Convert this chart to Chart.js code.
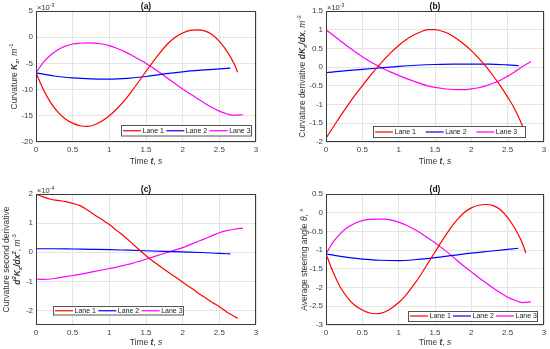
<!DOCTYPE html>
<html>
<head>
<meta charset="utf-8">
<script src="https://cdn.jsdelivr.net/npm/chart.js@4.4.1/dist/chart.umd.min.js"></script>
<style>
body { margin: 0; background: #fff; width: 550px; height: 349px; position: relative; overflow: hidden; }
canvas { position: absolute; }
</style>
</head>
<body>
<canvas id="ca" width="275" height="175" style="left:0;top:0"></canvas>
<canvas id="cb" width="275" height="175" style="left:275px;top:0"></canvas>
<canvas id="cc" width="275" height="174" style="left:0;top:175px"></canvas>
<canvas id="cd" width="275" height="174" style="left:275px;top:175px"></canvas>
<script>
// time samples of each lane, s
const lane1T = [0, 0.1, 0.2, 0.3, 0.4, 0.5, 0.6, 0.7, 0.8, 0.9, 1.0, 1.1, 1.2, 1.3, 1.4, 1.5, 1.6, 1.7, 1.8, 1.9, 2.0, 2.1, 2.2, 2.3, 2.4, 2.5, 2.6, 2.7, 2.75];
const lane2T = [0, 0.25, 0.5, 0.75, 1.0, 1.25, 1.5, 1.75, 2.0, 2.25, 2.5, 2.65];
const lane3T = [0, 0.1, 0.2, 0.3, 0.4, 0.5, 0.6, 0.7, 0.8, 0.9, 1.0, 1.1, 1.2, 1.3, 1.4, 1.5, 1.6, 1.7, 1.8, 1.9, 2.0, 2.1, 2.2, 2.3, 2.4, 2.5, 2.6, 2.7, 2.82];

// (a) curvature, x10^-3 1/m
const curvL1 = [-6.8, -10, -12.5, -14.3, -15.6, -16.4, -16.9, -17, -16.7, -16, -15, -13.7, -12.2, -10.4, -8.5, -6.5, -4.6, -2.8, -1.2, 0, 0.8, 1.3, 1.4, 1.2, 0.5, -0.8, -2.6, -5.0, -6.7];
const curvL2 = [-6.8, -7.4, -7.75, -7.95, -8.0, -7.85, -7.5, -7.0, -6.6, -6.3, -6.05, -5.9];
const curvL3 = [-6.8, -4.8, -3.4, -2.4, -1.7, -1.3, -1.15, -1.1, -1.12, -1.3, -1.6, -2.1, -2.7, -3.4, -4.2, -5.0, -5.9, -6.9, -7.9, -8.9, -9.9, -10.8, -11.7, -12.6, -13.4, -14.1, -14.6, -14.9, -14.8];

// (b) curvature derivative, x10^-3
const derivL1 = [-1.9, -1.6, -1.3, -1.02, -0.75, -0.5, -0.25, -0.02, 0.2, 0.4, 0.58, 0.73, 0.85, 0.94, 1.0, 1.0, 0.96, 0.88, 0.76, 0.61, 0.44, 0.24, 0.02, -0.23, -0.5, -0.8, -1.13, -1.55, -1.82];
const derivL2 = [-0.15, -0.1, -0.06, -0.02, 0.02, 0.05, 0.07, 0.08, 0.08, 0.08, 0.06, 0.04];
const derivL3 = [1.0, 0.85, 0.7, 0.55, 0.41, 0.28, 0.16, 0.05, -0.05, -0.14, -0.22, -0.3, -0.37, -0.44, -0.5, -0.54, -0.57, -0.59, -0.6, -0.6, -0.58, -0.55, -0.5, -0.43, -0.35, -0.24, -0.12, 0.01, 0.15];

// (c) curvature second derivative, x10^-4
const deriv2L1 = [2.0, 1.9, 1.82, 1.78, 1.74, 1.68, 1.6, 1.45, 1.28, 1.12, 0.95, 0.75, 0.55, 0.33, 0.1, -0.12, -0.32, -0.5, -0.68, -0.85, -1.03, -1.2, -1.38, -1.55, -1.72, -1.87, -2.05, -2.2, -2.27];
const deriv2L2 = [0.12, 0.12, 0.11, 0.1, 0.09, 0.07, 0.05, 0.03, 0.01, -0.01, -0.04, -0.06];
const deriv2L3 = [-0.92, -0.93, -0.92, -0.88, -0.84, -0.8, -0.76, -0.71, -0.66, -0.61, -0.56, -0.51, -0.45, -0.39, -0.32, -0.24, -0.16, -0.08, 0.0, 0.08, 0.16, 0.26, 0.36, 0.46, 0.57, 0.67, 0.74, 0.79, 0.83];

// (d) average steering angle, deg
const steerL1 = [-1.1, -1.6, -2.0, -2.28, -2.48, -2.6, -2.68, -2.7, -2.66, -2.55, -2.4, -2.2, -1.95, -1.67, -1.36, -1.05, -0.74, -0.45, -0.2, 0.0, 0.13, 0.2, 0.22, 0.19, 0.08, -0.13, -0.42, -0.8, -1.08];
const steerL2 = [-1.1, -1.18, -1.24, -1.27, -1.28, -1.25, -1.2, -1.14, -1.08, -1.03, -0.98, -0.95];
const steerL3 = [-1.1, -0.78, -0.55, -0.39, -0.28, -0.21, -0.18, -0.17, -0.17, -0.2, -0.25, -0.33, -0.43, -0.54, -0.67, -0.8, -0.95, -1.1, -1.27, -1.43, -1.58, -1.73, -1.87, -2.01, -2.14, -2.26, -2.34, -2.4, -2.38];

const laneNames = ['Lane 1', 'Lane 2', 'Lane 3'];
const laneColors = ['#ff0000', '#0000ff', '#ff00ff'];

const FONT = '"Liberation Sans", Arial, sans-serif';

function fontFor(st, size) {
	const it = st.includes('i') ? 'italic ' : '';
	const bd = st.includes('b') ? 'bold ' : '';
	return it + bd + size + 'px ' + FONT;
}

// draw text made of runs: [text, style, shift]
function drawRich(ctx, parts, size, x, y, rot, align) {
	ctx.save();
	ctx.translate(x, y);
	if (rot) ctx.rotate(-Math.PI / 2);
	ctx.textBaseline = 'alphabetic';
	ctx.textAlign = 'left';
	const runs = parts.map(([txt, st, shift]) => {
		const sz = shift ? size * 0.7 : size;
		const font = fontFor(st || '', sz);
		ctx.font = font;
		return {
			txt, font,
			w: ctx.measureText(txt).width,
			dy: shift === 'sub' ? size * 0.28 : shift === 'sup' ? -size * 0.42 : 0,
		};
	});
	const total = runs.reduce((a, r) => a + r.w, 0);
	let cx = align === 'left' ? 0 : -total / 2;
	for (const r of runs) {
		ctx.font = r.font;
		ctx.fillText(r.txt, cx, size * 0.36 + r.dy);
		cx += r.w;
	}
	ctx.restore();
}

const xTitle = [['Time ', ''], ['t', 'bi'], [', ', ''], ['s', 'i']];

// matlab style numbers: 1 not 1.0
const tickText = v => String(Number(v.toFixed(2)));

function panelPlugin(p) {
	return {
		id: 'panel_' + p.tag,
		afterDraw(chart) {
			const ctx = chart.ctx;
			const a = chart.chartArea;
			ctx.save();
			// axes box
			ctx.strokeStyle = '#3a3a3a';
			ctx.lineWidth = 1;
			ctx.strokeRect(Math.round(a.left) + 0.5, Math.round(a.top) + 0.5,
				Math.round(a.right - a.left) - 1, Math.round(a.bottom - a.top) - 1);

			ctx.fillStyle = '#111';
			drawRich(ctx, [['(' + p.tag + ')', 'b']], 8.5, (a.left + a.right) / 2, a.top - 5);
			ctx.fillStyle = '#333';
			if (p.expo) drawRich(ctx, p.expo, 7.5, a.left + 1, a.top - 4, false, 'left');
			drawRich(ctx, xTitle, 8.5, (a.left + a.right) / 2, p.xTitleY);
			p.yTitle.forEach((line, i) => {
				drawRich(ctx, line, 8.5, p.yTitleX[i], (a.top + a.bottom) / 2, true);
			});

			// legend
			const L = p.legend;
			const bx = a.left + L.x, by = a.bottom - L.b - L.h;
			ctx.fillStyle = '#fff';
			ctx.fillRect(bx, by, L.w, L.h);
			ctx.strokeStyle = '#555';
			ctx.strokeRect(Math.round(bx) + 0.5, Math.round(by) + 0.5, L.w, L.h);
			const step = L.w / 3;
			chart.data.datasets.forEach((ds, i) => {
				const ex = bx + 2 + i * step;
				const ey = by + L.h / 2 + 0.5;
				ctx.strokeStyle = ds.borderColor;
				ctx.lineWidth = 1.2;
				ctx.beginPath();
				ctx.moveTo(ex, ey);
				ctx.lineTo(ex + 18, ey);
				ctx.stroke();
				ctx.fillStyle = '#222';
				ctx.font = '7px ' + FONT;
				ctx.textBaseline = 'middle';
				ctx.textAlign = 'left';
				ctx.fillText(ds.label, ex + 19.5, ey);
			});
			ctx.restore();
		}
	};
}

function makeDataset(i, times, values) {
	return {
		label: laneNames[i],
		data: times.map((t, k) => ({ x: t, y: values[k] })),
		borderColor: laneColors[i],
		borderWidth: 1.2,
		pointRadius: 0,
		cubicInterpolationMode: 'monotone',
		fill: false,
	};
}

function renderPanel(p) {
	const ctx = document.getElementById(p.canvas).getContext('2d');
	new Chart(ctx, {
		type: 'line',
		data: {
			datasets: [
				makeDataset(0, lane1T, p.series[0]),
				makeDataset(1, lane2T, p.series[1]),
				makeDataset(2, lane3T, p.series[2]),
			],
		},
		options: {
			responsive: false,
			animation: false,
			layout: { padding: { top: p.padTop, right: p.padRight, left: 0, bottom: 0 } },
			plugins: { legend: { display: false }, tooltip: { enabled: false } },
			scales: {
				x: {
					type: 'linear',
					min: 0, max: 3,
					ticks: { stepSize: 0.5, padding: 3, color: '#404040', font: { size: 8, family: FONT }, callback: tickText },
					grid: { color: '#e4e4e4', drawTicks: false },
					border: { display: false },
					afterFit: s => { s.height = p.xH; },
				},
				y: {
					min: p.yMin, max: p.yMax,
					ticks: { stepSize: p.yStep, includeBounds: false, padding: 3, color: '#404040', font: { size: 8, family: FONT }, callback: tickText },
					grid: { color: '#e4e4e4', drawTicks: false },
					border: { display: false },
					afterFit: s => { s.width = p.yW; },
				},
			},
		},
		plugins: [panelPlugin(p)],
	});
}

renderPanel({
	tag: 'a', canvas: 'ca', padTop: 11, padRight: 19, yW: 36, xH: 33,
	yMin: -20, yMax: 5, yStep: 5,
	series: [curvL1, curvL2, curvL3],
	expo: [['×10', ''], ['-3', '', 'sup']],
	xTitleY: 160.5,
	yTitle: [[['Curvature ', ''], ['K', 'bi'], ['x', 'bi', 'sub'], [', ', ''], ['m', 'i'], ['-1', '', 'sup']]],
	yTitleX: [13.5],
	legend: { x: 85, w: 130, b: 6.5, h: 10.5 },
});

renderPanel({
	tag: 'b', canvas: 'cb', padTop: 11, padRight: 6, yW: 51, xH: 33,
	yMin: -2, yMax: 1.5, yStep: 0.5,
	series: [derivL1, derivL2, derivL3],
	expo: [['×10', ''], ['-3', '', 'sup']],
	xTitleY: 160.5,
	yTitle: [[['Curvature derivative ', ''], ['dK', 'bi'], ['x', 'bi', 'sub'], ['/dx', 'bi'], [', ', ''], ['m', 'i'], ['-2', '', 'sup']]],
	yTitleX: [26.5],
	legend: { x: 47, w: 152, b: 5, h: 11 },
});

renderPanel({
	tag: 'c', canvas: 'cc', padTop: 19, padRight: 19, yW: 36, xH: 24,
	yMin: -2.5, yMax: 2, yStep: 1,
	series: [deriv2L1, deriv2L2, deriv2L3],
	expo: [['×10', ''], ['-4', '', 'sup']],
	xTitleY: 167,
	yTitle: [
		[['Curvature second derivative', '']],
		[['d', 'bi'], ['2', 'bi', 'sup'], ['K', 'bi'], ['x', 'bi', 'sub'], ['/dx', 'bi'], ['2', 'bi', 'sup'], [', ', ''], ['m', 'i'], ['-3', '', 'sup']],
	],
	yTitleX: [6, 16.5],
	legend: { x: 17, w: 130, b: 10.5, h: 8.5 },
});

renderPanel({
	tag: 'd', canvas: 'cd', padTop: 19, padRight: 6, yW: 51, xH: 24,
	yMin: -3, yMax: 0.5, yStep: 0.5,
	series: [steerL1, steerL2, steerL3],
	expo: null,
	xTitleY: 167,
	yTitle: [[['Average steering angle ', ''], ['θ', 'i'], [', °', '']]],
	yTitleX: [29],
	legend: { x: 82, w: 129, b: 4.5, h: 10 },
});
</script>
</body>
</html>
